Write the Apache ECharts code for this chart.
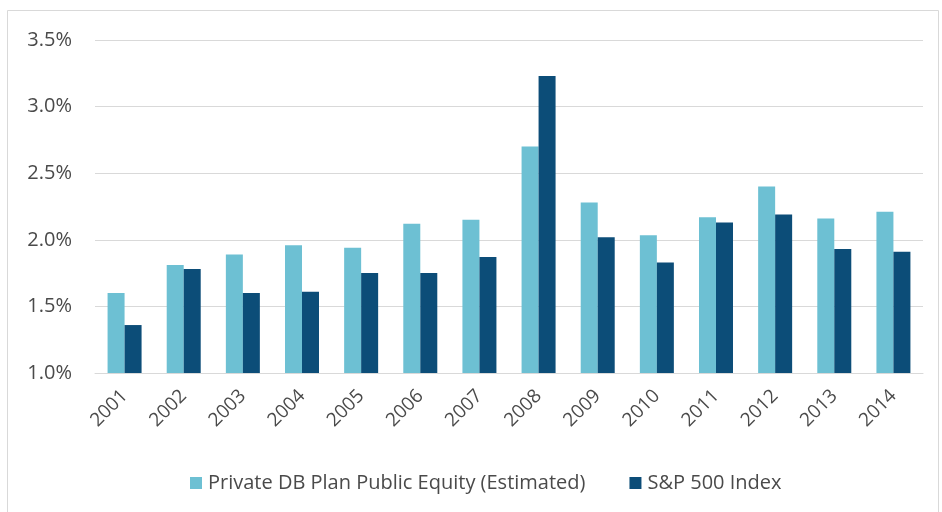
<!DOCTYPE html>
<html><head><meta charset="utf-8">
<script src="https://cdn.jsdelivr.net/npm/echarts@6/dist/echarts.min.js"></script>
<style>html,body{margin:0;padding:0;background:#fff}#c{width:942px;height:512px}</style>
</head><body><div id="c"></div>
<script>
const years = ['2001','2002','2003','2004','2005','2006','2007','2008','2009','2010','2011','2012','2013','2014'];
const privateDB = [1.60,1.81,1.89,1.96,1.94,2.12,2.15,2.70,2.28,2.035,2.17,2.40,2.16,2.21];
const sp500 = [1.36,1.78,1.60,1.61,1.75,1.75,1.87,3.23,2.02,1.83,2.13,2.19,1.93,1.91];
const seriesNames = ['Private DB Plan Public Equity (Estimated)','S&P 500 Index'];
const yTicks = {min:1.0, max:3.5, interval:0.5};

const chart = echarts.init(document.getElementById('c'), null, {renderer:'canvas'});
chart.setOption({
  animation:false,
  backgroundColor:'#fff',
  graphic:[{type:'rect',shape:{x:7.5,y:10.5,width:931,height:510},style:{fill:'none',stroke:'#d9d9d9',lineWidth:1},silent:true}],
  grid:{left:95,right:19,top:40,bottom:139,containLabel:false},
  legend:{
    top:468,left:185,itemWidth:12,itemHeight:12,itemGap:44,icon:'rect',
    textStyle:{fontFamily:'Open Sans',fontSize:20,color:'#4a4a4a',padding:[0,0,0,1]},
    data:seriesNames
  },
  xAxis:{
    type:'category',data:years,
    axisLine:{show:true,lineStyle:{color:'#d9d9d9'}},
    axisTick:{show:false},
    axisLabel:{rotate:45,fontFamily:'Open Sans',fontSize:19,color:'#4a4a4a',margin:20}
  },
  yAxis:{
    type:'value',min:yTicks.min,max:yTicks.max,interval:yTicks.interval,
    axisLine:{show:false},axisTick:{show:false},
    splitLine:{lineStyle:{color:'#d9d9d9',width:1}},
    axisLabel:{formatter:v=>v.toFixed(1)+'%',fontFamily:'Open Sans',fontSize:20,color:'#4a4a4a',margin:23}
  },
  series:[
    {name:seriesNames[0],type:'bar',data:privateDB,barWidth:17,barGap:'0%',itemStyle:{color:'#6dc0d3'}},
    {name:seriesNames[1],type:'bar',data:sp500,barWidth:17,barGap:'0%',itemStyle:{color:'#0c4d78'}}
  ]
});
</script></body></html>
